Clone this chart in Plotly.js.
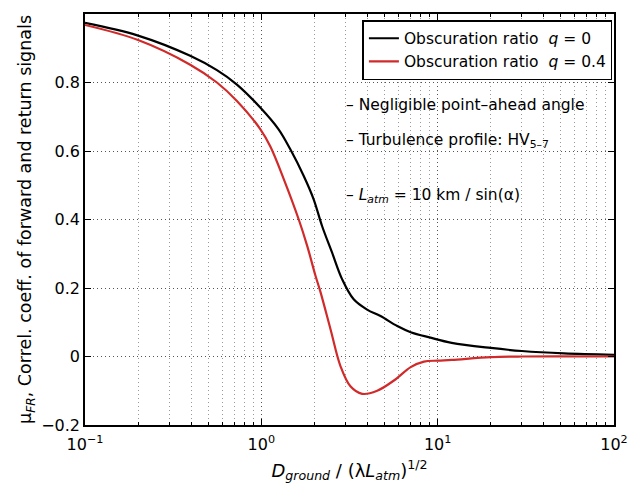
<!DOCTYPE html>
<html>
<head>
<meta charset="utf-8">
<script src="https://cdn.plot.ly/plotly-3.0.1.min.js"></script>
<style>html,body{margin:0;padding:0;background:#fff;}#chart{width:630px;height:485px;}</style>
</head>
<body>
<div id="chart"></div>
<script>
// Series q = 0 (black)
const xQ0 = [0.1, 0.2, 0.395, 0.56, 0.727, 0.986, 1.25, 1.46, 1.74, 1.98, 2.21, 2.52, 2.87, 3.34, 3.98, 4.74, 5.9, 7.03, 9.1, 12, 20, 30, 52, 100];
const yQ0 = [0.974, 0.937, 0.878, 0.836, 0.794, 0.727, 0.664, 0.605, 0.527, 0.459, 0.381, 0.303, 0.226, 0.167, 0.137, 0.118, 0.089, 0.071, 0.055, 0.040, 0.025, 0.016, 0.009, 0.005];
// Series q = 0.4 (red)
const xQ04 = [0.1, 0.2, 0.395, 0.56, 0.727, 0.986, 1.125, 1.34, 1.63, 1.82, 2.03, 2.16, 2.47, 2.81, 3.2, 3.73, 4.54, 5.65, 7.03, 8.36, 10, 12, 20, 30, 100];
const yQ04 = [0.968, 0.924, 0.852, 0.800, 0.746, 0.664, 0.613, 0.518, 0.400, 0.323, 0.235, 0.190, 0.079, -0.028, -0.087, -0.109, -0.100, -0.070, -0.031, -0.015, -0.012, -0.010, -0.002, 0.0, 0.0];

const xTickVals = [0.1, 1, 10, 100];
const xTickText = ['10<sup>−1</sup>', '10<sup>0</sup>', '10<sup>1</sup>', '10<sup>2</sup>'];
const xMinorVals = [0.2,0.3,0.4,0.5,0.6,0.7,0.8,0.9,2,3,4,5,6,7,8,9,20,30,40,50,60,70,80,90];
const yTickVals = [-0.2, 0, 0.2, 0.4, 0.6, 0.8];
const yTickText = ['−0.2', '0', '0.2', '0.4', '0.6', '0.8'];

const seriesNames = ['Obscuration ratio\u00a0\u00a0<i>q</i> = 0', 'Obscuration ratio\u00a0\u00a0<i>q</i> = 0.4'];
const notes = ['– Negligible point–ahead angle', '– Turbulence profile: HV<sub>5–7</sub>', '– <i>L</i><sub><i>atm</i></sub> = 10 km / sin(α)'];

const FONT = 'DejaVu Sans, Liberation Sans, Arial, sans-serif';

const traces = [
  {x: xQ0, y: yQ0, type: 'scatter', mode: 'lines', name: seriesNames[0],
   line: {color: '#000000', width: 2.2, shape: 'spline', smoothing: 1}},
  {x: xQ04, y: yQ04, type: 'scatter', mode: 'lines', name: seriesNames[1],
   line: {color: '#d02a2a', width: 2.2, shape: 'spline', smoothing: 1}}
];

const layout = {
  width: 630, height: 485,
  margin: {l: 85, r: 16, t: 14, b: 60},
  paper_bgcolor: '#ffffff', plot_bgcolor: '#ffffff',
  font: {family: FONT, size: 15, color: '#000'},
  showlegend: true,
  legend: {x: 0.997, y: 0.985, xanchor: 'right', yanchor: 'top',
    bgcolor: '#ffffff', bordercolor: '#000', borderwidth: 1.5,
    font: {family: FONT, size: 15.5}, tracegroupgap: 0, itemwidth: 30},
  xaxis: {
    type: 'log', range: [-1, 2],
    tickmode: 'array', tickvals: xTickVals, ticktext: xTickText,
    ticks: 'inside', ticklen: 6, tickwidth: 1, tickcolor: '#000',
    ticklabelstandoff: 4,
    showline: true, linecolor: '#000', linewidth: 1.8, mirror: 'ticks',
    showgrid: true, gridcolor: '#555', griddash: '1px,3px', gridwidth: 1,
    zeroline: false,
    minor: {tickmode: 'array', tickvals: xMinorVals, ticks: 'inside', ticklen: 3, tickcolor: '#000',
      showgrid: true, gridcolor: '#999', griddash: '1px,3px', gridwidth: 1},
    tickfont: {family: FONT, size: 16},
    title: {text: '<i>D</i><sub><i>ground</i></sub> / (λ<i>L</i><sub><i>atm</i></sub>)<sup>1/2</sup>',
      font: {family: FONT, size: 18}, standoff: 11}
  },
  yaxis: {
    range: [-0.2, 1.0],
    tickmode: 'array', tickvals: yTickVals, ticktext: yTickText,
    ticks: 'inside', ticklen: 6, tickwidth: 1, tickcolor: '#000',
    showline: true, linecolor: '#000', linewidth: 1.8, mirror: 'ticks',
    showgrid: true, gridcolor: '#555', griddash: '1px,3px', gridwidth: 1,
    zeroline: false,
    tickfont: {family: FONT, size: 16},
    title: {text: 'μ<sub><i>FR</i></sub>, Correl. coeff. of forward and return signals',
      font: {family: FONT, size: 17.5}, standoff: 5}
  },
  annotations: [
    {xref: 'paper', yref: 'paper', x: 0.49, y: 0.779, xanchor: 'left', yanchor: 'middle',
     text: notes[0], showarrow: false, font: {family: FONT, size: 15.5}},
    {xref: 'paper', yref: 'paper', x: 0.49, y: 0.69, xanchor: 'left', yanchor: 'middle',
     text: notes[1], showarrow: false, font: {family: FONT, size: 15.5}},
    {xref: 'paper', yref: 'paper', x: 0.49, y: 0.558, xanchor: 'left', yanchor: 'middle',
     text: notes[2], showarrow: false, font: {family: FONT, size: 15.5}}
  ]
};

Plotly.newPlot('chart', traces, layout, {staticPlot: true, displayModeBar: false});
</script>
</body>
</html>
